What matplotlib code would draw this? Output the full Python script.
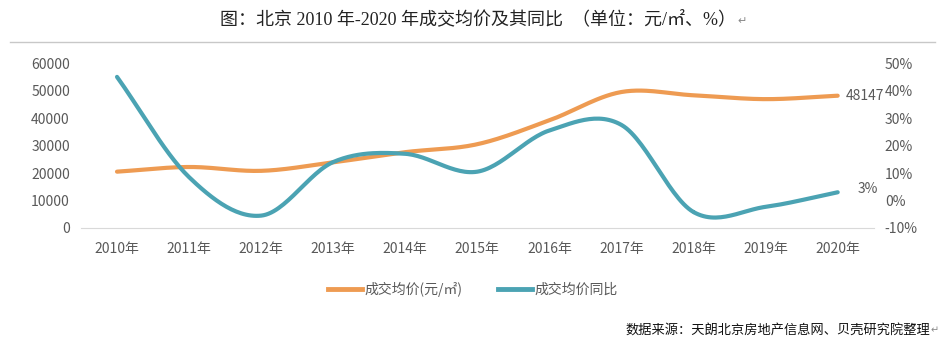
import numpy as np
import matplotlib.pyplot as plt

plt.rcParams['font.family'] = ['Noto Sans CJK SC', 'DejaVu Sans']

years = ["2010年", "2011年", "2012年", "2013年", "2014年", "2015年",
         "2016年", "2017年", "2018年", "2019年", "2020年"]
price = [20500, 22200, 20800, 23900, 27600, 30500, 39200, 49500, 48300, 46900, 48147]
yoy = [45, 8.5, -5.5, 14, 17, 10.5, 25.5, 27.5, -4.2, -2.3, 3]

price_ticks = [0, 10000, 20000, 30000, 40000, 50000, 60000]
yoy_ticks = [-10, 0, 10, 20, 30, 40, 50]

ORANGE = "#EE9B52"
TEAL = "#4BA3B3"
GRAY = "#595959"


def smooth(x, y, n=30):
    # catmull-rom curve through the points, like Excel's smoothed line
    x = np.asarray(x, float)
    y = np.asarray(y, float)
    px = np.concatenate([[2 * x[0] - x[1]], x, [2 * x[-1] - x[-2]]])
    py = np.concatenate([[2 * y[0] - y[1]], y, [2 * y[-1] - y[-2]]])
    xs, ys = [], []
    t = np.linspace(0, 1, n)
    for i in range(1, len(px) - 2):
        for p, out in ((px, xs), (py, ys)):
            p0, p1, p2, p3 = p[i - 1], p[i], p[i + 1], p[i + 2]
            out.extend(0.5 * (2 * p1 + (-p0 + p2) * t
                              + (2 * p0 - 5 * p1 + 4 * p2 - p3) * t ** 2
                              + (-p0 + 3 * p1 - 3 * p2 + p3) * t ** 3))
    return xs, ys


fig = plt.figure(figsize=(9.46, 3.47), dpi=100)
ax = fig.add_axes([0.0856, 0.343, 0.838, 0.475])
ax2 = ax.twinx()

x = np.arange(len(years))
sx, sy = smooth(x, price)
ax.plot(sx, sy, color=ORANGE, lw=3, solid_capstyle="round", zorder=2)
sx, sy = smooth(x, yoy)
ax2.plot(sx, sy, color=TEAL, lw=3, solid_capstyle="round", zorder=3)

ax.set_xlim(-0.5, len(years) - 0.5)
ax.set_ylim(0, 60000)
ax2.set_ylim(-10, 50)
ax.set_yticks(price_ticks)
ax.set_yticklabels([str(v) for v in price_ticks])
ax2.set_yticks(yoy_ticks)
ax2.set_yticklabels([f"{v}%" for v in yoy_ticks])
ax.set_xticks(x)
ax.set_xticklabels(years)

for a in (ax, ax2):
    for s in a.spines.values():
        s.set_visible(False)
    a.tick_params(length=0, colors=GRAY, labelsize=10)
ax.spines["bottom"].set_visible(True)
ax.spines["bottom"].set_color("#D9D9D9")
ax.tick_params(axis="x", pad=10)
ax.tick_params(axis="y", pad=8)
ax2.tick_params(axis="y", pad=8)

ax.annotate(str(price[-1]), (x[-1], price[-1]), xytext=(6, 0),
            textcoords="offset points", va="center", ha="left",
            fontsize=10, color=GRAY)
ax2.annotate(f"{yoy[-1]:g}%", (x[-1], yoy[-1]), xytext=(14, 2),
             textcoords="offset points", va="center", ha="left",
             fontsize=10, color=GRAY)

# title, separator, legend, source
title = fig.text(0.505, 0.945, "图：北京 2010 年-2020 年成交均价及其同比  （单位：元/㎡、%）",
                 ha="center", va="center", fontsize=13, color="#222222",
                 family=["Liberation Serif", "Noto Sans CJK SC"])
fig.canvas.draw()
bb = title.get_window_extent().transformed(fig.transFigure.inverted())
fig.text(bb.x1 + 0.002, 0.94, "↵", ha="left", va="center", fontsize=8, color="#888888")
fig.add_artist(plt.Line2D([0.011, 0.988], [0.879, 0.879], color="#C8C8C8", lw=1))

handles = [plt.Line2D([], [], color=ORANGE, lw=3.5),
           plt.Line2D([], [], color=TEAL, lw=3.5)]
fig.legend(handles, ["成交均价(元/㎡)", "成交均价同比"], loc="center",
           bbox_to_anchor=(0.5, 0.167), ncol=2, frameon=False, fontsize=10,
           labelcolor=GRAY, handlelength=2.4, handletextpad=0.2, columnspacing=2.6)

fig.text(0.983, 0.047, "数据来源：天朗北京房地产信息网、贝壳研究院整理", ha="right",
         va="center", fontsize=9.5, color="#111111")
fig.text(0.984, 0.047, "↵", ha="left", va="center", fontsize=7, color="#888888")

fig.savefig("out.png", dpi=100)
